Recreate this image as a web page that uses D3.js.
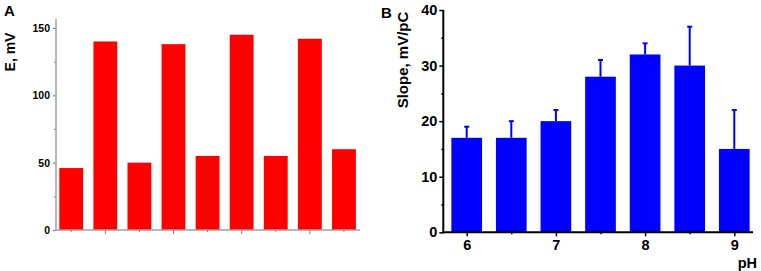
<!DOCTYPE html>
<html><head><meta charset="utf-8">
<script src="https://cdn.jsdelivr.net/npm/d3@7"></script>
<style>body{margin:0;background:#fff}svg{display:block;font-family:Arial,"Liberation Sans",sans-serif;font-weight:bold}</style>
</head><body>
<svg id="c" width="761" height="271"></svg>
<script>
// Panel A data
const catsA = ["1","2","3","4","5","6","7","8","9"];
const valsA = [46, 140, 50, 138, 55, 145, 55, 142, 60];
const ticksA = [0, 50, 100, 150];
const minorA = [25, 75, 125];
// Panel B data
const phB = [6, 6.5, 7, 7.5, 8, 8.5, 9];
const valsB = [17, 17, 20, 28, 32, 30, 15];
const errB = [2, 3, 2, 3, 2, 7, 7];
const ticksBy = [0, 10, 20, 30, 40];
const minorBy = [5, 15, 25, 35];
const ticksBx = [6, 7, 8, 9];
const minorBx = [6.5, 7.5, 8.5];

const svg = d3.select("#c");

// ---------- Panel A ----------
const xA = d3.scaleBand().domain(catsA).range([54.2, 361]).paddingInner(0.3).paddingOuter(0.15);
const yA = d3.scaleLinear().domain([0, 150]).range([230, 28]);
const gA = svg.append("g");
gA.selectAll("rect").data(valsA).join("rect")
  .attr("x", (d,i)=>xA(catsA[i])).attr("width", xA.bandwidth())
  .attr("y", d=>yA(d)).attr("height", d=>yA(0)-yA(d))
  .attr("fill", "#ff0000");
const axColA = "#a0a0a0";
const yAxA = gA.append("g").attr("transform","translate(56,0)")
  .call(d3.axisLeft(yA).tickValues(ticksA).tickSize(3).tickPadding(3));
yAxA.select(".domain").remove();
yAxA.selectAll(".tick line").attr("stroke", "#777");
yAxA.selectAll("text").attr("font-size", 10.5).attr("font-weight","bold").attr("fill","#000");
gA.append("g").attr("transform","translate(56,0)")
  .call(d3.axisLeft(yA).tickValues(minorA).tickSize(2).tickFormat(""))
  .call(g=>{g.select(".domain").remove(); g.selectAll("line").attr("stroke","#777");});
gA.append("line").attr("x1",56).attr("x2",56).attr("y1",19).attr("y2",230.5)
  .attr("stroke",axColA).attr("stroke-width",1.5);
const xAxA = gA.append("g").attr("transform","translate(0,230)")
  .call(d3.axisBottom(xA).tickSize(0).tickFormat(""));
xAxA.select(".domain").remove();
gA.selectAll(".tk").data(catsA).join("line").attr("class","tk")
  .attr("x1", d=>xA(d)+xA.bandwidth()/2).attr("x2", d=>xA(d)+xA.bandwidth()/2)
  .attr("y1", 230).attr("y2", (d,i)=> i%2===1 ? 234 : 232)
  .attr("stroke","#777").attr("stroke-width",1);
gA.append("line").attr("x1",56).attr("x2",360).attr("y1",230).attr("y2",230)
  .attr("stroke",axColA).attr("stroke-width",1.5);
svg.append("text").attr("x",4).attr("y",16).attr("font-size",15).text("A");
svg.append("text").attr("transform","translate(15,52) rotate(-90)")
  .attr("text-anchor","middle").attr("font-size",14).text("E, mV");

// ---------- Panel B ----------
const xB = d3.scaleLinear().domain([6, 9]).range([466.7, 734.3]);
const yB = d3.scaleLinear().domain([0, 40]).range([232.3, 10]);
const bw = xB(6.344) - xB(6);
const gB = svg.append("g");
// error bars
gB.selectAll(".eb").data(valsB).join("line").attr("class","eb")
  .attr("x1",(d,i)=>xB(phB[i])).attr("x2",(d,i)=>xB(phB[i]))
  .attr("y1",d=>yB(d)).attr("y2",(d,i)=>yB(d+errB[i]))
  .attr("stroke","#0000ff").attr("stroke-width",2);
gB.selectAll(".cap").data(valsB).join("line").attr("class","cap")
  .attr("x1",(d,i)=>xB(phB[i])-2.5).attr("x2",(d,i)=>xB(phB[i])+2.5)
  .attr("y1",(d,i)=>yB(d+errB[i])).attr("y2",(d,i)=>yB(d+errB[i]))
  .attr("stroke","#0000ff").attr("stroke-width",2);
gB.selectAll("rect").data(valsB).join("rect")
  .attr("x",(d,i)=>xB(phB[i])-bw/2).attr("width",bw)
  .attr("y",d=>yB(d)).attr("height",d=>yB(0)-yB(d))
  .attr("fill","#0000ff");
const yAxB = gB.append("g").attr("transform","translate(443.3,0)")
  .call(d3.axisLeft(yB).tickValues(ticksBy).tickSize(4).tickPadding(2));
yAxB.select(".domain").remove();
yAxB.selectAll(".tick line").attr("stroke","#000").attr("stroke-width",1.5);
yAxB.selectAll("text").attr("font-size",14.5).attr("font-weight","bold").attr("fill","#000");
gB.append("g").attr("transform","translate(443.3,0)")
  .call(d3.axisLeft(yB).tickValues(minorBy).tickSize(2).tickFormat(""))
  .call(g=>{g.select(".domain").remove(); g.selectAll("line").attr("stroke","#000").attr("stroke-width",1.5);});
const xAxB = gB.append("g").attr("transform","translate(0,232.3)")
  .call(d3.axisBottom(xB).tickValues(ticksBx).tickSize(4).tickPadding(3).tickFormat(d3.format("d")));
xAxB.select(".domain").remove();
xAxB.selectAll(".tick line").attr("stroke","#000").attr("stroke-width",1.5);
xAxB.selectAll("text").attr("font-size",14.5).attr("font-weight","bold").attr("fill","#000");
gB.append("g").attr("transform","translate(0,232.3)")
  .call(d3.axisBottom(xB).tickValues(minorBx).tickSize(2).tickFormat(""))
  .call(g=>{g.select(".domain").remove(); g.selectAll("line").attr("stroke","#000").attr("stroke-width",1.5);});
gB.append("line").attr("x1",443.3).attr("x2",443.3).attr("y1",10).attr("y2",233.3)
  .attr("stroke","#000").attr("stroke-width",2);
gB.append("line").attr("x1",442.3).attr("x2",753).attr("y1",232.3).attr("y2",232.3)
  .attr("stroke","#000").attr("stroke-width",2);
svg.append("text").attr("x",381).attr("y",18).attr("font-size",15).text("B");
svg.append("text").attr("transform","translate(408,60) rotate(-90)")
  .attr("text-anchor","middle").attr("font-size",15).text("Slope, mV/pC");
svg.append("text").attr("x",757).attr("y",268).attr("text-anchor","end").attr("font-size",14.5).text("pH");
</script>
</body></html>
